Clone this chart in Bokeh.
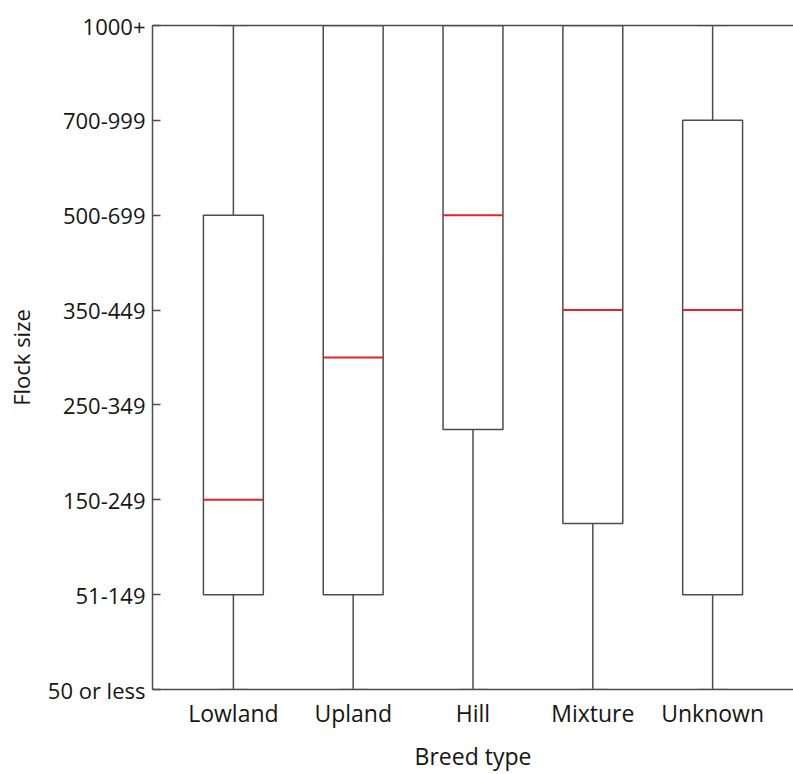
from bokeh.plotting import figure
from bokeh.models import FixedTicker, LinearAxis, Range1d
from bokeh.embed import file_html
from bokeh.resources import INLINE

# Data
breeds = ["Lowland", "Upland", "Hill", "Mixture", "Unknown"]
size_labels = ["50 or less", "51-149", "150-249", "250-349", "350-449", "500-699", "700-999", "1000+"]
lower = [0, 0, 0, 0, 0]
q1 = [1, 1, 2.74, 1.75, 1]
median = [2, 3.5, 5, 4, 4]
q3 = [5, 7, 7, 7, 6]
upper = [7, 7, 7, 7, 7]

xs = list(range(1, len(breeds) + 1))
half_box = 0.25
half_cap = 0.125

FONT = "Open Sans"
TEXT = "#151515"
LINE = "#4d4d4d"

p = figure(width=793, height=774, output_backend="svg", toolbar_location=None,
           x_range=Range1d(0.325, 5.675), y_range=Range1d(0, 7),
           min_border_left=152, min_border_right=0, min_border_top=25, min_border_bottom=85)
p.outline_line_color = None
p.grid.grid_line_color = None
p.background_fill_color = "white"
p.border_fill_color = "white"

# whiskers
p.segment(x0=xs, y0=lower, x1=xs, y1=upper, line_color=LINE, line_width=1.5)
# caps
p.segment(x0=[x - half_cap for x in xs], y0=lower, x1=[x + half_cap for x in xs], y1=lower,
          line_color="#a0a0a0", line_width=1.5)
p.segment(x0=[x - half_cap for x in xs], y0=upper, x1=[x + half_cap for x in xs], y1=upper,
          line_color="#a0a0a0", line_width=1.5)
# boxes
p.vbar(x=xs, width=2 * half_box, bottom=q1, top=q3, fill_color="white",
       line_color=LINE, line_width=1.5)
# medians
p.segment(x0=[x - half_box for x in xs], y0=median, x1=[x + half_box for x in xs], y1=median,
          line_color="#e8202a", line_width=2)

# axes
xa = p.xaxis[0]
xa.ticker = FixedTicker(ticks=xs)
xa.major_label_overrides = {x: b for x, b in zip(xs, breeds)}
xa.major_tick_line_color = None
xa.minor_tick_line_color = None
xa.axis_line_color = LINE
xa.axis_line_width = 1.5
xa.axis_label = "Breed type"
xa.major_label_standoff = 1
xa.axis_label_standoff = 8
xa.major_label_text_font_size = "23px"
xa.axis_label_text_font_size = "23px"

ya = p.yaxis[0]
ya.ticker = FixedTicker(ticks=list(range(len(size_labels))))
ya.major_label_overrides = {i: s for i, s in enumerate(size_labels)}
ya.major_tick_in = 8
ya.major_tick_out = 0
ya.major_tick_line_color = LINE
ya.major_tick_line_width = 1.5
ya.minor_tick_line_color = None
ya.axis_line_color = LINE
ya.axis_line_width = 1.5
ya.axis_label = "Flock size"
ya.major_label_standoff = 7
ya.axis_label_standoff = 9
ya.major_label_text_font_size = "22px"
ya.axis_label_text_font_size = "22px"

for ax in (xa, ya):
    ax.major_label_text_font = FONT
    ax.major_label_text_color = TEXT
    ax.axis_label_text_font = FONT
    ax.axis_label_text_font_style = "normal"
    ax.axis_label_text_color = TEXT

top = LinearAxis(ticker=FixedTicker(ticks=[]), major_label_text_font_size="0px",
                 axis_line_color=LINE, axis_line_width=1.5,
                 major_tick_line_color=None, minor_tick_line_color=None)
p.add_layout(top, "above")

open("out.html", "w").write(file_html(p, INLINE))
